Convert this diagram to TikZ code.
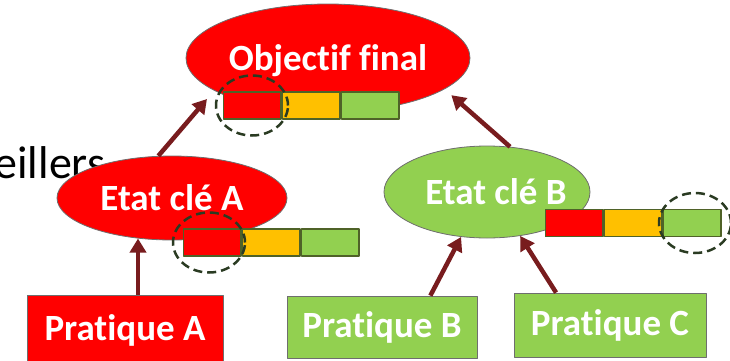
\documentclass[tikz,border=0pt]{standalone}
\usepackage{fontspec}
\setmainfont{Carlito}[Ligatures=NoCommon]
\usetikzlibrary{positioning,shapes.geometric,arrows.meta}
\definecolor{cRed}{HTML}{FF0000}
\definecolor{cAmber}{HTML}{FFC000}
\definecolor{cGreen}{HTML}{92D050}
\definecolor{cBar}{HTML}{4F6228}
\definecolor{cRing}{HTML}{2A3B22}
\definecolor{cArrow}{HTML}{781C1E}
\definecolor{cEdge}{HTML}{6E6E6E}
\begin{document}
\begin{tikzpicture}[x=1pt, y=1pt, line join=round, >={Triangle[length=14pt,width=16pt]}]
	\tikzset{
		goal/.style={ellipse, draw=cEdge, line width=0.8pt, text=white, inner sep=0pt, font=\bfseries\fontsize{37}{42}\selectfont},
		practice/.style={draw=cEdge, line width=0.8pt, text=white, inner sep=0pt, font=\bfseries\fontsize{37}{42}\selectfont},
		seg/.style={draw=cBar, line width=1.5pt, minimum width=57.5pt, minimum height=27pt, inner sep=0pt},
		ring/.style={ellipse, draw=cRing, line width=2.5pt, dash pattern=on 9pt off 5pt, minimum width=72pt, minimum height=60pt},
		arr/.style={->, draw=cArrow, line width=4.5pt}
	}
	\clip (0,0) rectangle (730,360);
	
	\node[anchor=base west, font=\fontsize{46}{50}\selectfont] (rest) at (-9,182) {eillers};
	
	\node[goal, fill=cRed, text depth=0pt, minimum width=284pt, minimum height=108pt] (obj) at (328,302) {Objectif final};
	\node[goal, fill=cRed, minimum width=230pt, minimum height=84pt] (eA) at (172,162) {Etat clé A};
	\node[goal, fill=cGreen, minimum width=206pt, minimum height=92pt] (eB) at (487,168) {\hspace*{9pt}Etat clé B\hspace*{-9pt}};
	
	\foreach \b/\x/\y in {o/252/254.5, a/212/117.5, b/574/137}{
		\node[seg, fill=cRed] (\b1) at (\x,\y) {};
		\node[seg, fill=cAmber, right=0pt of \b1] (\b2) {};
		\node[seg, fill=cGreen, right=0pt of \b2] (\b3) {};
	}
	\node[ring] (ro) at (o1) {};
	\node[ring] (ra) at ([xshift=-3pt]a1) {};
	\node[ring] (rb) at ([xshift=3pt]b3) {};
	
	\node[practice, fill=cRed, minimum width=196pt, minimum height=70pt] (pA) at (125,30) {Pratique A};
	\node[practice, fill=cGreen, minimum width=190pt, minimum height=62pt] (pB) at (382,33) {Pratique B};
	\node[practice, fill=cGreen, minimum width=192pt, minimum height=64pt] (pC) at (610,35) {Pratique C};
	
	\draw[arr, shorten >=11pt] (eA.108) -- (obj.196);
	\draw[arr, shorten >=9pt] (eB.63) -- (obj.345);
	\draw[arr] (eA.230 |- pA.north) -- (eA.230);
	\draw[arr] (pB.33) -- (eB.240);
	\draw[arr] (pC.149) -- (eB.307);
\end{tikzpicture}
\end{document}
